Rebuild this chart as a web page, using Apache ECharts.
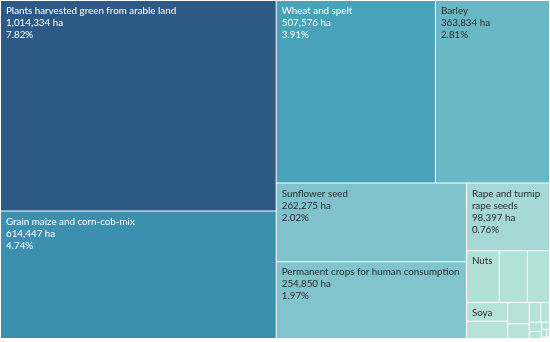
<!DOCTYPE html>
<html><head><meta charset="utf-8">
<script src="https://cdn.jsdelivr.net/npm/echarts@6/dist/echarts.min.js"></script>
<style>html,body{margin:0;padding:0;background:#fff}#c{width:550px;height:342px}</style>
</head><body><div id="c"></div>
<script>
// Main crops (labelled)
const crops = ['Plants harvested green from arable land', 'Grain maize and corn-cob-mix', 'Wheat and spelt', 'Barley', 'Sunflower seed', 'Permanent crops for human consumption', 'Rape and turnip rape seeds'];
const hectares = [1014334, 614447, 507576, 363834, 262275, 254850, 98397];
// Minor crops (small cells)
const minorCrops = ['Nuts', 'Dried pulses and protein crops', 'Potatoes (including seed potatoes)', 'Soya', 'Sugar beet (excluding seed)', 'Fresh vegetables', 'Triticale', 'Rye and winter cereal mixtures', 'Oats and spring cereal mixtures', 'Linseed (oilflax)', 'Hemp', 'Tobacco', 'Hops', 'Fibre flax', 'Rice'];
const minorHectares = [29800, 25400, 20100, 13500, 12500, 8000, 5500, 4000, 3000, 2000, 1500, 1000, 700, 400, 200];
const minorLabelled = ['Nuts', 'Soya'];
const totalArea = 12967000; // denominator for percentages

const colorStops = ['#b8e3da', '#a5d8d5', '#8ccbd0', '#77bec9', '#61b2c2', '#48a2b9', '#3b90b0', '#3782a6', '#33759b', '#306790', '#2c5985'];

const data = crops.map((n, i) => ({
  name: n, value: hectares[i],
  label: { color: hectares[i] > 400000 ? '#ffffff' : '#2b2b2b' }
})).concat(minorCrops.map((n, i) => ({
  name: n, value: minorHectares[i],
  label: { show: minorLabelled.includes(n), color: '#2b2b2b' }
})));

const chart = echarts.init(document.getElementById('c'), null, { renderer: 'canvas' });
chart.setOption({
  animation: false,
  series: [{
    type: 'treemap',
    left: 1, top: 1, right: 1, bottom: 4,
    roam: false, nodeClick: false,
    breadcrumb: { show: false },
    data: data,
    levels: [{
      color: colorStops,
      colorMappingBy: 'value',
      visualMin: 0,
      itemStyle: { gapWidth: 1, borderWidth: 0, borderColor: '#fff' }
    }],
    label: {
      show: true,
      position: 'insideTopLeft',
      distance: 0,
      padding: [4, 1, 0, 5],
      fontFamily: 'Lato',
      fontSize: 9.8,
      lineHeight: 12,
      overflow: 'break',
      formatter: p => minorLabelled.includes(p.name) ? p.name :
        p.name + '\n' + p.value.toLocaleString('en-US') + ' ha\n' + (p.value / totalArea * 100).toFixed(2) + '%'
    }
  }]
});
</script></body></html>
